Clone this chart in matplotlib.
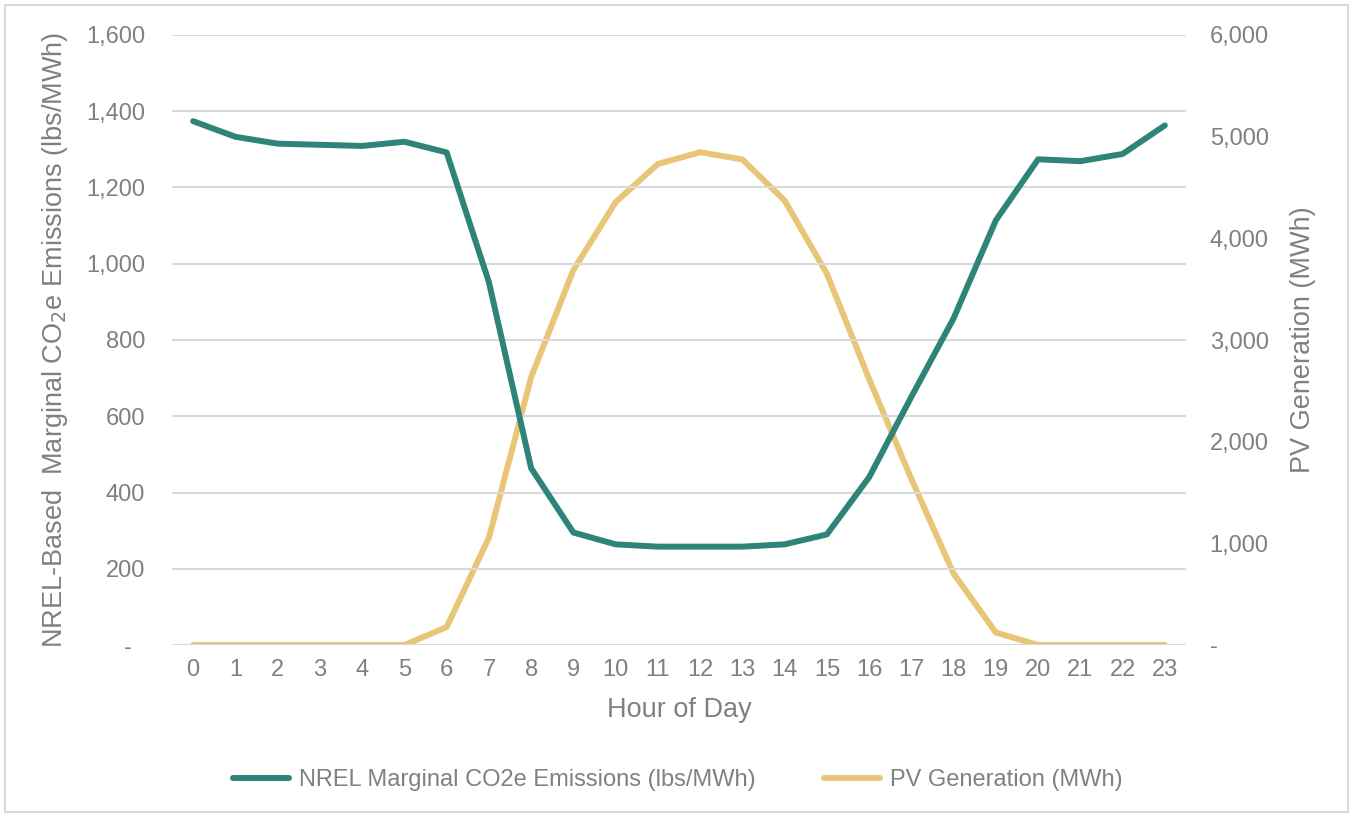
import matplotlib
matplotlib.use("Agg")
import matplotlib.pyplot as plt
from matplotlib.patches import Rectangle
from matplotlib.ticker import FuncFormatter, MultipleLocator

# Hourly profile
hours = list(range(24))
emissions_lbs_mwh = [1374, 1333, 1315, 1312, 1309, 1320, 1292, 952, 464, 295,
                     264, 258, 258, 258, 264, 290, 440, 651, 857, 1114,
                     1274, 1269, 1288, 1363]
pv_mwh = [0, 0, 0, 0, 0, 0, 176, 1054, 2634, 3688,
          4355, 4731, 4847, 4776, 4372, 3652, 2616, 1633, 702, 123,
          0, 0, 0, 0]

TEAL = "#2E8478"
GOLD = "#E8C577"
GRAY = "#808080"
GRID = "#D9D9D9"

plt.rcParams["font.family"] = ["Liberation Sans", "DejaVu Sans"]


def left_fmt(v, _pos):
    # Excel accounting style: zero shown as a dash, padded on the right
    return "-  " if abs(v) < 1e-9 else f"{v:,.0f}"


def right_fmt(v, _pos):
    return "-" if abs(v) < 1e-9 else f"{v:,.0f}"


fig = plt.figure(figsize=(13.51, 8.15), dpi=100)
ax = fig.add_axes([172 / 1351, 1 - 645 / 815, (1186 - 172) / 1351, 610 / 815])
ax2 = ax.twinx()

ax.plot(hours, emissions_lbs_mwh, color=TEAL, lw=4.3, solid_capstyle="round",
        label="NREL Marginal CO2e Emissions (lbs/MWh)", zorder=3)
ax2.plot(hours, pv_mwh, color=GOLD, lw=4.3, solid_capstyle="round",
         label="PV Generation (MWh)", zorder=2)
ax.set_zorder(ax2.get_zorder() + 1)
ax.patch.set_visible(False)

ax.set_xlim(-0.5, 23.5)
ax.set_ylim(0, 1600)
ax2.set_ylim(0, 6000)
ax.set_xticks(hours)
ax.yaxis.set_major_locator(MultipleLocator(200))
ax2.yaxis.set_major_locator(MultipleLocator(1000))
ax.yaxis.set_major_formatter(FuncFormatter(left_fmt))
ax2.yaxis.set_major_formatter(FuncFormatter(right_fmt))

ax.grid(axis="y", color=GRID, lw=1.5, zorder=0)
ax.set_axisbelow(True)
for a in (ax, ax2):
    for s in a.spines.values():
        s.set_visible(False)
ax.tick_params(axis="x", length=0, pad=10, labelsize=17, labelcolor=GRAY)
ax.tick_params(axis="y", length=0, pad=19.4, labelsize=17, labelcolor=GRAY)
ax2.tick_params(axis="y", length=0, pad=17, labelsize=17, labelcolor=GRAY)

ax.set_xlabel("Hour of Day", fontsize=19.5, color=GRAY)
ax.xaxis.set_label_coords(0.5, -0.085)
ax.set_ylabel("NREL-Based  Marginal CO$_2$e Emissions (lbs/MWh)",
              fontsize=19.5, color=GRAY)
ax.yaxis.set_label_coords(-0.1006, 0.5)
ax2.set_ylabel("PV Generation (MWh)", fontsize=19.5, color=GRAY)
ax2.yaxis.set_label_coords(1.1026, 0.5)

h1, l1 = ax.get_legend_handles_labels()
h2, l2 = ax2.get_legend_handles_labels()
leg = fig.legend(h1 + h2, l1 + l2, loc="center", bbox_to_anchor=(0.5015, 0.043),
                 ncol=2, frameon=False, fontsize=17, handlelength=2.37,
                 columnspacing=2.9, handletextpad=0.42)
for t in leg.get_texts():
    t.set_color(GRAY)

# thin light border around the whole chart area
fig.patches.append(Rectangle((5 / 1351, 3 / 815), 1343 / 1351, 807 / 815,
                             transform=fig.transFigure, fill=False,
                             edgecolor="#D9D9D9", lw=1.5))

fig.savefig("out.png", dpi=100)
